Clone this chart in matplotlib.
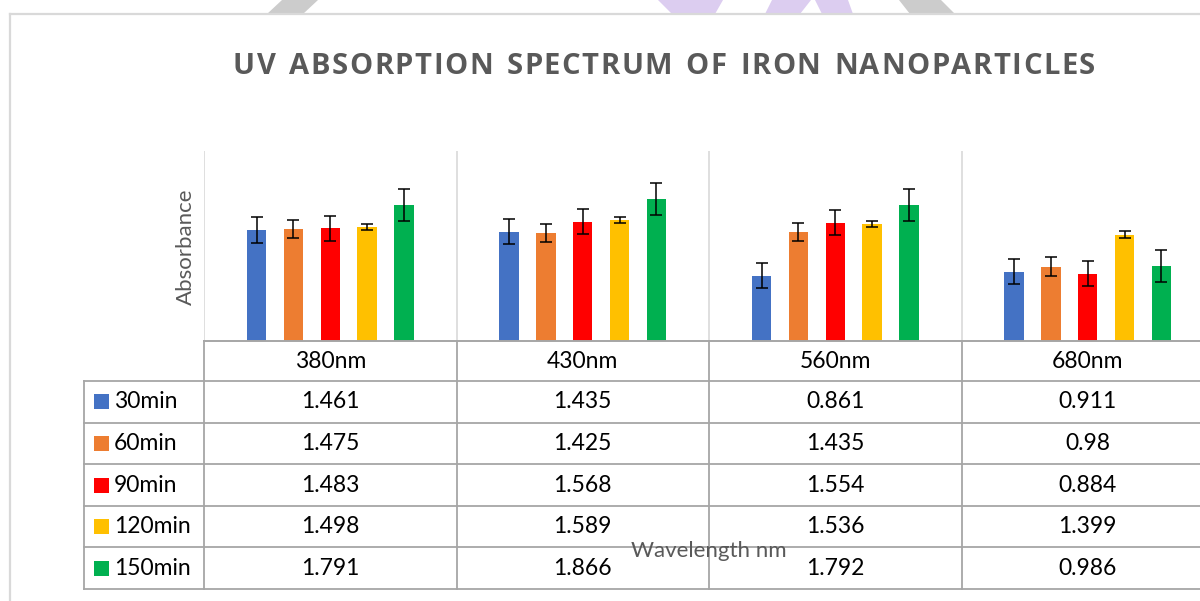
import matplotlib
matplotlib.use("Agg")
import matplotlib.pyplot as plt
from matplotlib.transforms import blended_transform_factory
from matplotlib.patches import Polygon, Rectangle
from matplotlib.lines import Line2D

# chart data
title = "UV ABSORPTION SPECTRUM OF IRON NANOPARTICLES"
wavelengths = ["380nm", "430nm", "560nm", "680nm"]
series_names = ["30min", "60min", "90min", "120min", "150min"]
colors = ["#4472C4", "#ED7D31", "#FF0000", "#FFC000", "#00B050"]
abs_30 = [1.461, 1.435, 0.861, 0.911]
abs_60 = [1.475, 1.425, 1.435, 0.98]
abs_90 = [1.483, 1.568, 1.554, 0.884]
abs_120 = [1.498, 1.589, 1.536, 1.399]
abs_150 = [1.791, 1.866, 1.792, 0.986]
# error bar size per series (same at every wavelength)
errs = [0.165, 0.12, 0.165, 0.042, 0.21]
series = [abs_30, abs_60, abs_90, abs_120, abs_150]

W, H = 1200, 601
fig = plt.figure(figsize=(12, 6.01), dpi=100)


def fx(px):
    return px / W


def fy(py):
    return 1 - py / H


grid_c = "#d9d9d9"
table_c = "#a6a6a6"
txt_c = "#595959"
font = "Lato"
tsize = 16.5

# bits of page watermark peeking out above the chart frame
wm = [
    ([(282, 0), (318, 0), (303, 14), (267, 14)], "#cccccc"),
    ([(658, 0), (723, 0), (715, 14), (672, 14)], "#dccdf0"),
    ([(772, 0), (811, 0), (800, 14), (765, 14)], "#dccdf0"),
    ([(815, 0), (848, 0), (853, 14), (822, 14)], "#dccdf0"),
    ([(899, 0), (941, 0), (955, 14), (910, 14)], "#cccccc"),
]
for pts, c in wm:
    fig.add_artist(Polygon([(fx(a), fy(b)) for a, b in pts], closed=True,
                           facecolor=c, edgecolor="none"))

# chart frame
fig.add_artist(Line2D([fx(10), 1.01], [fy(14), fy(14)], color=grid_c, lw=1.6))
fig.add_artist(Line2D([fx(10), fx(10)], [fy(14), -0.01], color=grid_c, lw=1.6))

ax = fig.add_axes([fx(204), fy(341), (1214 - 204) / W, (341 - 151) / H])
ax.set_xlim(-0.5, 3.5)
ax.set_ylim(0, 2.5)
ax.set_autoscale_on(False)
ax.axis("off")

for b in [-0.5, 0.5, 1.5, 2.5]:
    ax.axvline(b, color=grid_c, lw=1.2, zorder=1)

step = 0.146
bw = 0.077
for i, vals in enumerate(series):
    xs = [k + (i - 2) * step for k in range(len(wavelengths))]
    ax.bar(xs, vals, bw, color=colors[i], zorder=3)
    ax.errorbar(xs, vals, yerr=errs[i], fmt="none", ecolor="black",
                elinewidth=1.1, capsize=4.6, capthick=1.1, zorder=4)

# data table below the plot
tr = blended_transform_factory(ax.transData, fig.transFigure)
rows_y = [341, 381, 422.6, 464.2, 505.8, 547.4, 589]
ax.plot([-0.5, 3.5], [fy(341), fy(341)], transform=tr, color=table_c,
        lw=1.4, clip_on=False, zorder=5)
for b in [-0.5, 0.5, 1.5, 2.5, 3.5]:
    ax.plot([b, b], [fy(341), fy(589)], transform=tr, color=table_c,
            lw=1.3, clip_on=False)
for y in rows_y[1:]:
    fig.add_artist(Line2D([fx(84), 1.01], [fy(y), fy(y)], color=table_c, lw=1.3))
fig.add_artist(Line2D([fx(84), fx(84)], [fy(381), fy(589)], color=table_c, lw=1.3))

for k, wl in enumerate(wavelengths):
    ax.text(k, fy((rows_y[0] + rows_y[1]) / 2), wl, transform=tr, ha="center",
            va="center", fontsize=tsize, family=font, color="black", clip_on=False)

for i, vals in enumerate(series):
    yc = (rows_y[i + 1] + rows_y[i + 2]) / 2
    fig.add_artist(Rectangle((fx(94), fy(yc + 7.5)), 15 / W, 15 / H,
                             facecolor=colors[i], edgecolor="none"))
    fig.text(fx(114), fy(yc), series_names[i], ha="left", va="center",
             fontsize=tsize, family=font, color="black")
    for k, v in enumerate(vals):
        ax.text(k, fy(yc), str(v), transform=tr, ha="center", va="center",
                fontsize=tsize, family=font, color="black", clip_on=False)

# axis titles
fig.text(fx(186), fy(247), "Absorbance", rotation=90, ha="center", va="center",
         fontsize=16, family=font, color=txt_c)
fig.text(fx(709), fy(551), "Wavelength nm", ha="center", va="center",
         fontsize=16, family=font, color=txt_c)

# letter-spaced title
tkw = dict(family="Open Sans", weight="bold", fontsize=21, color=txt_c)
renderer = fig.canvas.get_renderer()
widths = []
for ch in title:
    if ch == " ":
        widths.append(None)
        continue
    t = fig.text(0, 0, ch, **tkw)
    widths.append(t.get_window_extent(renderer).width)
    t.remove()
n_words = title.count(" ")
n_gaps = len(title) - n_words - 1
extra_word = 12.0
gap = (1095 - 233 - sum(w for w in widths if w) - extra_word * n_words) / n_gaps
x = 233.0
for ch, w in zip(title, widths):
    if w is None:
        x += extra_word
        continue
    fig.text(fx(x), fy(66.5), ch, ha="left", va="center", **tkw)
    x += w + gap

fig.savefig("out.png", dpi=100, facecolor="white")
